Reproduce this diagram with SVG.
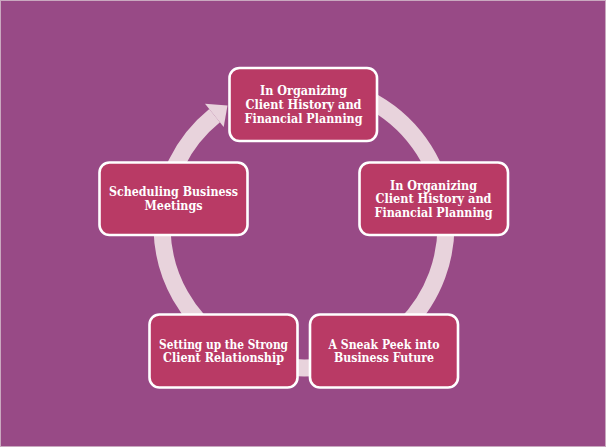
<svg xmlns="http://www.w3.org/2000/svg" width="606" height="447" viewBox="0 0 606 447">
<style>
.bg{fill:#984a86}
.ring{fill:none;stroke:#e8d3dc;stroke-width:17}
.head{fill:#e8d3dc}
.box{fill:#b93a65;stroke:#ffffff;stroke-width:2.6}
.t{font-family:"DejaVu Serif Condensed","DejaVu Serif","Liberation Serif",serif;font-stretch:condensed;font-weight:bold;font-size:12.5px;fill:#ffffff;text-anchor:middle}
</style>
<rect class="bg" x="0" y="0" width="606" height="447"/>
<rect x="0.5" y="0.5" width="605" height="446" fill="none" stroke="#c9a9bf" stroke-width="1"/>
<g id="connectors">
<path class="ring" d="M 316.4 84.5 A 142 142 0 1 1 214.6 115.6"/>
<polygon class="head" points="205,103.8 227.5,105.5 223.7,126.9"/>
</g>
<g id="node1">
<rect class="box" x="229.5" y="68" width="147.5" height="73" rx="10"/>
<text class="t" x="303.5" y="95" textLength="87" lengthAdjust="spacingAndGlyphs">In Organizing</text>
<text class="t" x="303.5" y="108.5" textLength="116" lengthAdjust="spacingAndGlyphs">Client History and</text>
<text class="t" x="303.5" y="122.5" textLength="118" lengthAdjust="spacingAndGlyphs">Financial Planning</text>
</g>
<g id="node2">
<rect class="box" x="359.5" y="162.5" width="148.5" height="72.5" rx="10"/>
<text class="t" x="433.5" y="189.5" textLength="87" lengthAdjust="spacingAndGlyphs">In Organizing</text>
<text class="t" x="433.5" y="203" textLength="116" lengthAdjust="spacingAndGlyphs">Client History and</text>
<text class="t" x="433.5" y="217" textLength="118" lengthAdjust="spacingAndGlyphs">Financial Planning</text>
</g>
<g id="node3">
<rect class="box" x="310" y="314.5" width="148" height="73" rx="10"/>
<text class="t" x="384" y="348.5" textLength="111" lengthAdjust="spacingAndGlyphs">A Sneak Peek into</text>
<text class="t" x="384" y="362" textLength="100" lengthAdjust="spacingAndGlyphs">Business Future</text>
</g>
<g id="node4">
<rect class="box" x="149.5" y="314.5" width="148" height="73" rx="10"/>
<text class="t" x="223.5" y="348.5" textLength="129" lengthAdjust="spacingAndGlyphs">Setting up the Strong</text>
<text class="t" x="223.5" y="362" textLength="121" lengthAdjust="spacingAndGlyphs">Client Relationship</text>
</g>
<g id="node5">
<rect class="box" x="99.5" y="162.5" width="148" height="72.5" rx="10"/>
<text class="t" x="173.5" y="196" textLength="129" lengthAdjust="spacingAndGlyphs">Scheduling Business</text>
<text class="t" x="173.5" y="209.5" textLength="58" lengthAdjust="spacingAndGlyphs">Meetings</text>
</g>
</svg>
